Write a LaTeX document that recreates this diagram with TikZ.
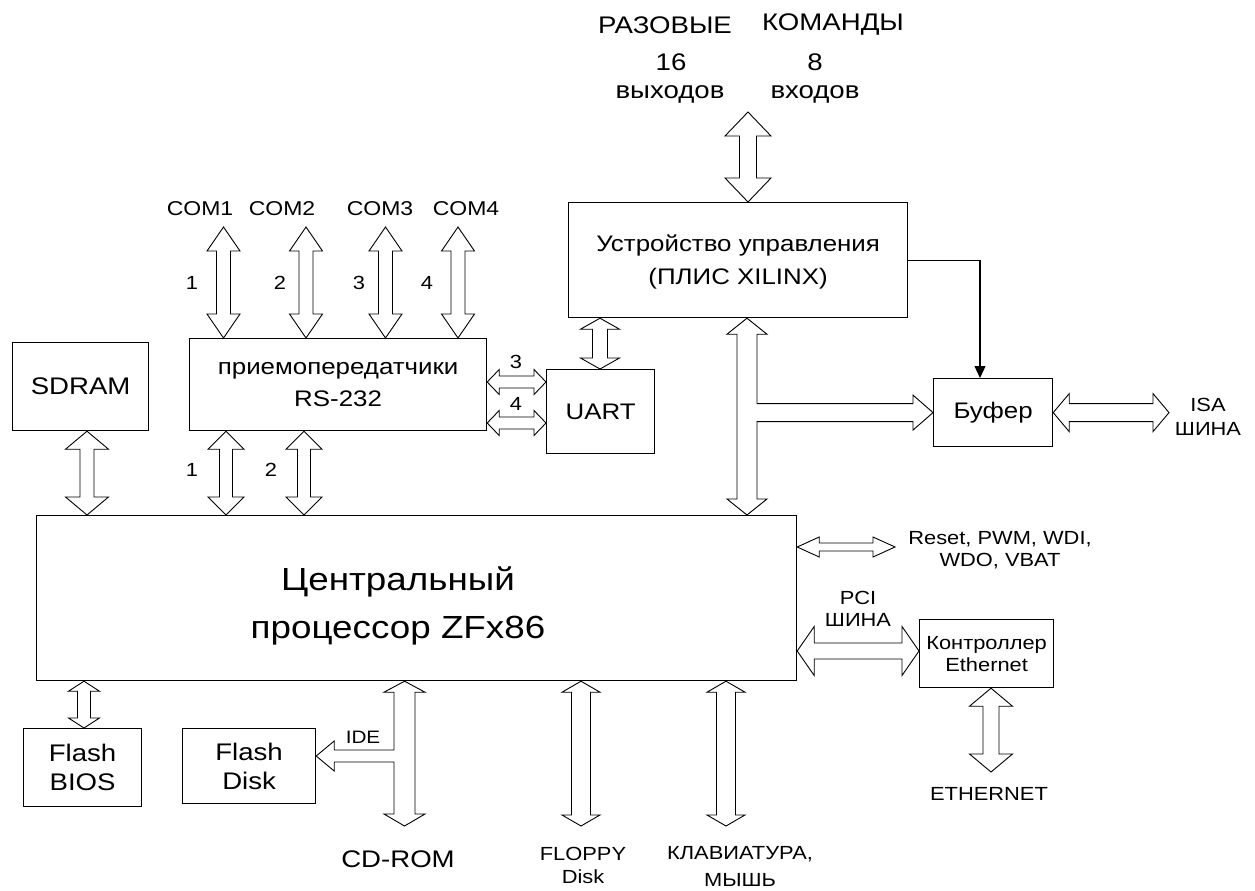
\documentclass[tikz,border=0pt]{standalone}
\usepackage{fontspec}
\setmainfont[FakeStretch=1.15]{Liberation Sans}
\usetikzlibrary{calc,arrows.meta}

\newcommand{\fsz}[2]{\fontsize{#1}{#2}\selectfont}

\newcommand{\vbus}[5]{%
    \draw[bus] let \p1=#4, \p2=#5 in
        (\x1,\y1) -- ({\x1+#2pt},{\y1-#3pt}) -- ({\x1+#1pt},{\y1-#3pt})
        -- ({\x1+#1pt},{\y2+#3pt}) -- ({\x1+#2pt},{\y2+#3pt}) -- (\x1,\y2)
        -- ({\x1-#2pt},{\y2+#3pt}) -- ({\x1-#1pt},{\y2+#3pt})
        -- ({\x1-#1pt},{\y1-#3pt}) -- ({\x1-#2pt},{\y1-#3pt}) -- cycle;}

\newcommand{\hbus}[5]{%
    \draw[bus] let \p1=#4, \p2=#5 in
        (\x1,\y1) -- ({\x1+#3pt},{\y1+#2pt}) -- ({\x1+#3pt},{\y1+#1pt})
        -- ({\x2-#3pt},{\y1+#1pt}) -- ({\x2-#3pt},{\y1+#2pt}) -- (\x2,\y1)
        -- ({\x2-#3pt},{\y1-#2pt}) -- ({\x2-#3pt},{\y1-#1pt})
        -- ({\x1+#3pt},{\y1-#1pt}) -- ({\x1+#3pt},{\y1-#2pt}) -- cycle;}

\begin{document}
\begin{tikzpicture}[x=1pt, y=-1pt,
        box/.style={rectangle, draw, line width=1.2pt, inner sep=0pt, anchor=north west, align=center},
        bus/.style={draw, line width=0.9pt, fill=white},
        lbl/.style={inner sep=0pt, align=center}]

            \useasboundingbox (0,0) rectangle (1255,891);

            \node[box, minimum width=136pt, minimum height=88pt, font=\fsz{24}{32}] (sdram) at (12,342) {SDRAM};

            \node[box, minimum width=297pt, minimum height=92pt, text depth=0pt, font=\fsz{22.5}{32}] (rs232) at (189,338) {приемопередатчики\\RS-232};

            \node[box, minimum width=108pt, minimum height=84pt, font=\fsz{22.5}{30}] (uart) at (546,369) {UART};

            \node[box, minimum width=339pt, minimum height=115pt, text depth=0pt, font=\fsz{22.5}{33}] (ctrl) at (568,202) {Устройство управления\\(ПЛИС XILINX)};

            \node[box, minimum width=119pt, minimum height=68pt, font=\fsz{22.5}{30}] (buf) at (933,378) {Буфер};

            \node[box, minimum width=760pt, minimum height=165pt] (cpu) at (36,515) {};

            \node[lbl, font=\fsz{32}{48}] (cputxt) at (398,606) {Центральный\\процессор ZFx86};

            \node[box, minimum width=118pt, minimum height=78pt, font=\fsz{24}{29}] (bios) at (23,728) {Flash\\BIOS};

            \node[box, minimum width=133pt, minimum height=75pt, font=\fsz{24}{29}] (fdisk) at (182,728) {Flash\\Disk};

            \node[box, minimum width=134pt, minimum height=68pt, font=\fsz{19}{22}] (eth) at (919,619) {Контроллер\\Ethernet};

            \coordinate (cmdp) at (748,112);
            \coordinate (c1) at (223.5,227);
            \coordinate (c2) at (306,227);
            \coordinate (c3) at (385.5,227);
            \coordinate (c4) at (458,227);
            \coordinate (r1) at (226,0);
            \coordinate (r2) at (304,0);
            \coordinate (sdb) at (87,0);
            \coordinate (ub) at (600,0);
            \coordinate (cb) at (747,0);
            \coordinate (fb) at (84,0);
            \coordinate (cdend) at (404.5,826);
            \coordinate (idey) at (0,756);
            \coordinate (fdend) at (581,826);
            \coordinate (kbend) at (726,826);
            \coordinate (u3) at (0,382);
            \coordinate (u4) at (0,423);
            \coordinate (isaend) at (1169,413);
            \coordinate (rstend) at (895,547);
            \coordinate (pci) at (0,651);
            \coordinate (ethend) at (991,772);
            \coordinate (sigx) at (980,0);

            \vbus{8.5}{23}{24}{(cmdp)}{(cmdp |- ctrl.north)}
            \vbus{7}{16.5}{24}{(c1)}{(c1 |- rs232.north)}
            \vbus{7}{16.5}{24}{(c2)}{(c2 |- rs232.north)}
            \vbus{7}{16.5}{24}{(c3)}{(c3 |- rs232.north)}
            \vbus{7}{16.5}{24}{(c4)}{(c4 |- rs232.north)}
            \vbus{6.5}{18}{18}{(r1 |- rs232.south)}{(r1 |- cpu.north)}
            \vbus{6.5}{18}{18}{(r2 |- rs232.south)}{(r2 |- cpu.north)}
            \vbus{7}{21.5}{18}{(sdb |- sdram.south)}{(sdb |- cpu.north)}
            \vbus{7.5}{19.5}{11}{(ub |- ctrl.south)}{(uart.north)}
            \vbus{6.5}{15.5}{10}{(fb |- cpu.south)}{(fb |- bios.north)}
            \vbus{9.5}{19}{11}{(fdend |- cpu.south)}{(fdend)}
            \vbus{9.5}{19}{11}{(kbend |- cpu.south)}{(kbend)}
            \vbus{8}{21.5}{18}{(ethend |- eth.south)}{(ethend)}

            \hbus{6}{12.5}{12}{(u3 -| rs232.east)}{(u3 -| uart.west)}
            \hbus{6}{12.5}{12}{(u4 -| rs232.east)}{(u4 -| uart.west)}
            \hbus{9}{19}{16}{(buf.east)}{(isaend)}
            \hbus{4}{10}{22}{(rstend -| cpu.east)}{(rstend)}
            \hbus{8}{24.5}{17}{(pci -| cpu.east)}{(pci -| eth.west)}

            \draw[bus] let \p1=(cb |- ctrl.south), \p2=(cb |- cpu.north), \p3=(buf.west) in
                (\x1,\y1) -- ({\x1+20pt},{\y1-16pt}) -- ({\x1+10pt},{\y1-16pt})
                -- ({\x1+10pt},{\y3+9pt}) -- ({\x3-20pt},{\y3+9pt}) -- ({\x3-20pt},{\y3+17.5pt}) -- (\x3,\y3)
                -- ({\x3-20pt},{\y3-17.5pt}) -- ({\x3-20pt},{\y3-9pt}) -- ({\x1+10pt},{\y3-9pt})
                -- ({\x1+10pt},{\y2+16pt}) -- ({\x1+20pt},{\y2+16pt}) -- (\x2,\y2)
                -- ({\x1-20pt},{\y2+16pt}) -- ({\x1-10pt},{\y2+16pt})
                -- ({\x1-10pt},{\y1-16pt}) -- ({\x1-20pt},{\y1-16pt}) -- cycle;

            \draw[bus] let \p1=(cdend |- cpu.south), \p2=(cdend), \p3=(fdisk.east |- idey) in
                (\x1,\y1) -- ({\x1+20.5pt},{\y1-11pt}) -- ({\x1+10.5pt},{\y1-11pt})
                -- ({\x1+10.5pt},{\y2+12pt}) -- ({\x1+20.5pt},{\y2+12pt}) -- (\x2,\y2)
                -- ({\x1-20.5pt},{\y2+12pt}) -- ({\x1-10.5pt},{\y2+12pt})
                -- ({\x1-10.5pt},{\y3-6pt}) -- ({\x3+18pt},{\y3-6pt}) -- ({\x3+18pt},{\y3-15pt}) -- (\x3,\y3)
                -- ({\x3+18pt},{\y3+15pt}) -- ({\x3+18pt},{\y3+6pt}) -- ({\x1-10.5pt},{\y3+6pt})
                -- ({\x1-10.5pt},{\y1-11pt}) -- ({\x1-20.5pt},{\y1-11pt}) -- cycle;

            \draw[line width=1.2pt, -{Triangle[length=12pt, width=11pt]}] (ctrl.east) -| (sigx |- buf.north);

            \node[lbl, font=\fsz{24}{24}] (raz) at (665,25) {РАЗОВЫЕ};
            \node[lbl, font=\fsz{24}{24}] (kom) at (833,25) {КОМАНДЫ};
            \node[lbl, font=\fsz{24}{24}] (n16) at (671,62) {16};
            \node[lbl, font=\fsz{24}{24}] (n8) at (815,62) {8};
            \node[lbl, font=\fsz{24}{24}] (vyh) at (670,94) {выходов};
            \node[lbl, font=\fsz{24}{24}] (vh) at (815,94) {входов};

            \node[lbl, font=\fsz{20}{20}] (com1) at (200,209) {COM1};
            \node[lbl, font=\fsz{20}{20}] (com2) at (282,209) {COM2};
            \node[lbl, font=\fsz{20}{20}] (com3) at (380,209) {COM3};
            \node[lbl, font=\fsz{20}{20}] (com4) at (466,209) {COM4};

            \node[lbl, font=\fsz{19}{19}] (k1) at (192,283) {1};
            \node[lbl, font=\fsz{19}{19}] (k2) at (280,283) {2};
            \node[lbl, font=\fsz{19}{19}] (k3) at (359,283) {3};
            \node[lbl, font=\fsz{19}{19}] (k4) at (427,283) {4};
            \node[lbl, font=\fsz{19}{19}] (m1) at (192,470) {1};
            \node[lbl, font=\fsz{19}{19}] (m2) at (271,470) {2};
            \node[lbl, font=\fsz{19}{19}] (u3txt) at (516,362) {3};
            \node[lbl, font=\fsz{19}{19}] (u4txt) at (516,404) {4};

            \node[lbl, font=\fsz{19}{24}] (isa) at (1208,417) {ISA\\ШИНА};
            \node[lbl, font=\fsz{19}{22}] (rst) at (1000,550) {Reset, PWM, WDI,\\WDO, VBAT};
            \node[lbl, font=\fsz{19}{22}] (pcitxt) at (858,609) {PCI\\ШИНА};
            \node[lbl, font=\fsz{19}{19}] (ethtxt) at (989,794) {ETHERNET};
            \node[lbl, font=\fsz{18}{18}] (ide) at (363,737) {IDE};
            \node[lbl, font=\fsz{24}{24}] (cdrom) at (398,859) {CD-ROM};
            \node[lbl, font=\fsz{19}{23}] (fdd) at (583,865) {FLOPPY\\Disk};
            \node[lbl, font=\fsz{19}{27}] (kbd) at (740,866) {КЛАВИАТУРА,\\МЫШЬ};
        \end{tikzpicture}
\end{document}
